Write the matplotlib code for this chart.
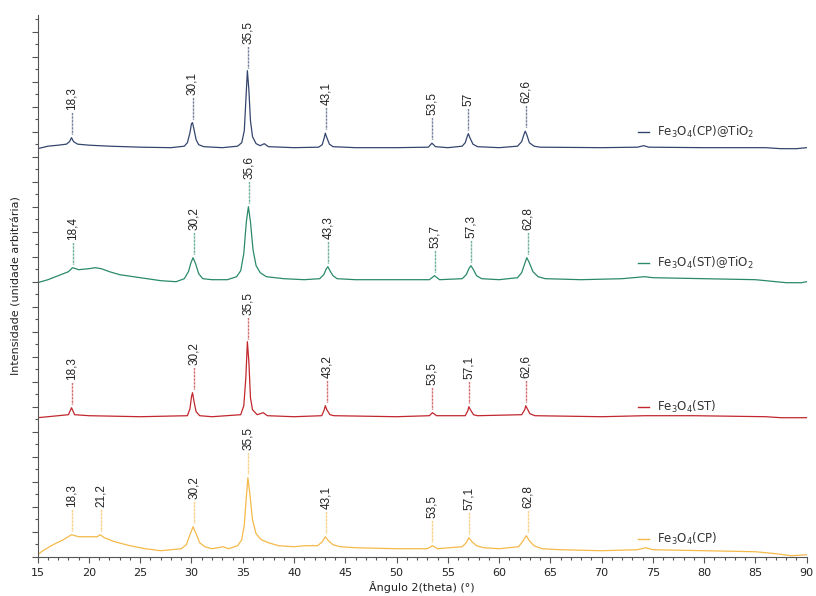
import numpy as np
import matplotlib
matplotlib.use('Agg')
import matplotlib.pyplot as plt
from matplotlib.ticker import MultipleLocator

plt.rcParams['mathtext.default'] = 'regular'

# Data (2theta in degrees, intensity in arbitrary units above each offset)
tt_cp_tio2 = [15, 16, 17, 17.8, 18.1, 18.3, 18.5, 18.9, 20, 22, 25, 28, 29.3, 29.6, 29.85, 30.0, 30.1,
              30.25, 30.45, 30.7, 31.2, 33, 34.5, 34.9, 35.15, 35.3, 35.45, 35.6, 35.75, 35.95, 36.3,
              36.7, 37.1, 37.5, 40, 42.4, 42.75, 42.95, 43.05, 43.2, 43.45, 43.8, 46, 50, 53.1, 53.45,
              53.8, 55, 56.4, 56.7, 56.9, 57.0, 57.15, 57.45, 57.9, 60, 61.8, 62.2, 62.45, 62.55,
              62.7, 62.95, 63.4, 64, 70, 73.5, 74.1, 74.6, 80, 86, 87.5, 89, 90]
i_cp_tio2 = [0, 2.5, 3.5, 4.5, 7, 11, 7, 4.5, 3.5, 2.5, 1.5, 1, 2.5, 6, 16, 25, 26,
             19, 9, 4, 2, 1, 2.5, 6, 18, 48, 78, 58, 28, 12, 5,
             3, 5, 2, 1, 1.5, 4, 11, 15.5, 11, 4.5, 2, 1, 1, 1.5, 5.5,
             2, 1, 2.5, 6, 12.5, 15, 11, 4.5, 2, 1, 2.5, 7, 15, 17.5,
             14, 6, 2.5, 1.5, 1, 1.5, 3, 1.5, 1, 1, 0, 0, 1]

tt_st_tio2 = [15, 16, 17, 18, 18.4, 19, 20, 20.6, 21.2, 22, 23, 25, 27, 28.5, 29.3, 29.7, 29.95,
              30.15, 30.4, 30.7, 31.1, 32, 33.5, 34.4, 34.8, 35.1, 35.35, 35.55, 35.75, 36.0, 36.3,
              36.7, 37.3, 39, 41, 42.5, 42.9, 43.15, 43.3, 43.5, 43.8, 44.2, 46, 50, 53.2, 53.7, 54.2,
              56.4, 56.8, 57.05, 57.25, 57.5, 57.8, 58.3, 60, 61.8, 62.2, 62.5, 62.7, 62.95, 63.3,
              63.8, 64.5, 68, 72, 74.2, 75, 80, 85, 88, 89.5, 90]
i_st_tio2 = [1, 4, 8, 12, 16, 14, 15, 16, 15, 12, 9, 6, 3, 2, 5, 12, 21,
             26, 20, 10, 5, 4, 4, 7, 13, 30, 62, 77, 62, 34, 18,
             11, 7, 5, 4, 5, 9, 15, 17, 13, 8, 5, 4, 4, 4, 8, 4,
             5, 9, 15, 18, 14, 8, 5, 4, 6, 11, 20, 26, 21, 12,
             7, 5, 4, 5, 7, 6, 5, 4, 1, 1, 2]

tt_st = [15, 17, 18.0, 18.3, 18.6, 20, 25, 29.6, 29.85, 30.0, 30.1, 30.25, 30.45, 30.8, 32, 34.8,
         35.1, 35.3, 35.45, 35.6, 35.75, 35.95, 36.4, 37.0, 37.4, 40, 42.7, 42.95, 43.05, 43.2,
         43.5, 43.9, 50, 53.2, 53.5, 53.9, 56.7, 56.95, 57.05, 57.2, 57.5, 57.9, 62.2, 62.5, 62.6,
         62.75, 63.0, 63.5, 70, 74.2, 79, 86, 87.5, 89, 90]
i_st = [0, 2, 3, 10, 3, 2, 1, 2, 9, 21, 25, 16, 6, 2, 1, 3,
        12, 40, 76, 55, 20, 8, 3, 5, 2, 1, 2, 8, 12, 8,
        3, 2, 1, 2, 5, 2, 2, 7, 11, 8, 3, 2, 3, 8, 12,
        9, 4, 2, 1, 2, 2, 1, 0, 0, 0]

tt_cp = [15, 15.5, 16.5, 17.5, 18.3, 19.0, 20.0, 20.8, 21.1, 21.5, 22.5, 24, 25.5, 27, 29.0, 29.5,
         29.85, 30.15, 30.45, 30.8, 31.3, 32, 33.1, 33.6, 34.5, 34.9, 35.15, 35.35, 35.5, 35.7,
         35.95, 36.3, 36.8, 37.5, 38.5, 40, 41, 42.3, 42.75, 43.05, 43.35, 43.8, 44.5, 46, 50, 53.0,
         53.5, 54.0, 56.4, 56.8, 57.05, 57.35, 57.8, 58.5, 60, 61.9, 62.35, 62.65, 62.95, 63.4,
         64.2, 66, 70, 73.5, 74.3, 75, 80, 85, 87, 88.5, 90]
i_cp = [2, 6, 12, 17, 22, 20, 20, 20, 22, 19, 15, 11, 8, 6, 8, 12,
        22, 30, 23, 14, 10, 8, 10, 8, 11, 17, 32, 60, 79, 62,
        37, 23, 17, 14, 11, 10, 11, 11, 15, 20, 16, 12, 10, 9, 8, 8,
        11, 8, 10, 14, 19, 15, 11, 9, 8, 10, 16, 21, 16, 11,
        8, 7, 6, 7, 9, 7, 6, 5, 3, 1, 2]

names = [r'Fe$_3$O$_4$(CP)@TiO$_2$', r'Fe$_3$O$_4$(ST)@TiO$_2$', r'Fe$_3$O$_4$(ST)', r'Fe$_3$O$_4$(CP)']
colors = ['#34466e', '#2a8a68', '#c1272d', '#f5b94a']
offsets = [408, 273, 139, 0]

# peak labels (position, text)
peaks_cp_tio2 = [(18.3, '18,3'), (30.1, '30,1'), (35.5, '35,5'), (43.1, '43,1'), (53.5, '53,5'), (57.0, '57'), (62.6, '62,6')]
peaks_st_tio2 = [(18.4, '18,4'), (30.2, '30,2'), (35.6, '35,6'), (43.3, '43,3'), (53.7, '53,7'), (57.3, '57,3'), (62.8, '62,8')]
peaks_st = [(18.3, '18,3'), (30.2, '30,2'), (35.5, '35,5'), (43.2, '43,2'), (53.5, '53,5'), (57.1, '57,1'), (62.6, '62,6')]
peaks_cp = [(18.3, '18,3'), (21.2, '21,2'), (30.2, '30,2'), (35.5, '35,5'), (43.1, '43,1'), (53.5, '53,5'), (57.1, '57,1'), (62.8, '62,8')]

legend_y = [425, 294, 150, 18]

series = [(tt_cp_tio2, i_cp_tio2, peaks_cp_tio2), (tt_st_tio2, i_st_tio2, peaks_st_tio2),
          (tt_st, i_st, peaks_st), (tt_cp, i_cp, peaks_cp)]

fig = plt.figure(figsize=(8.16, 5.96), dpi=100)
ax = fig.add_axes([0.0462, 0.0659, 0.9424, 0.909])

for k, (tt, inten, peaks) in enumerate(series):
    tt = np.array(tt)
    y = np.array(inten) + offsets[k]
    c = colors[k]
    ax.plot(tt, y, color=c, lw=0.9)
    for pos, lab in peaks:
        # top of the curve near the label position
        top = np.interp(np.linspace(pos - 0.3, pos + 0.3, 31), tt, y).max()
        y0 = top + 4
        y1 = y0 + 22
        ax.plot([pos, pos], [y0, y1], color=c, lw=1.0, ls=(0, (0.5, 0.5)))
        ax.text(pos, y1 + 2, lab, rotation=90, ha='center', va='bottom',
                fontsize=8.5, family='Liberation Sans', color='#222222')
    # legend entry next to the curve
    ax.plot([73.5, 74.6], [legend_y[k], legend_y[k]], color=c, lw=1.0)
    ax.text(75.4, legend_y[k], names[k], ha='left', va='center', fontsize=8.5,
            family='DejaVu Sans', color='#333333')

ax.set_xlim(15, 90)
ax.set_ylim(0, 541.7)
ax.xaxis.set_major_locator(MultipleLocator(5))
ax.xaxis.set_minor_locator(MultipleLocator(1))
ax.yaxis.set_major_locator(MultipleLocator(25))
ax.yaxis.set_minor_locator(MultipleLocator(12.5))
ax.tick_params(axis='both', which='major', length=4, width=0.8, color='#555555', labelsize=8, labelcolor='#222222')
ax.tick_params(axis='both', which='minor', length=2, width=0.8, color='#555555')
ax.tick_params(axis='y', which='both', labelleft=False)
ax.tick_params(axis='x', pad=4)
for s in ['top', 'right']:
    ax.spines[s].set_visible(False)
for s in ['left', 'bottom']:
    ax.spines[s].set_color('#555555')
    ax.spines[s].set_linewidth(0.8)

ax.set_xlabel('Ângulo 2(theta) (°)', fontsize=8, color='#222222', labelpad=2)
ax.set_ylabel('Intensidade (unidade arbitrária)', fontsize=8, color='#222222', labelpad=8)

fig.savefig('out.png', dpi=100)
